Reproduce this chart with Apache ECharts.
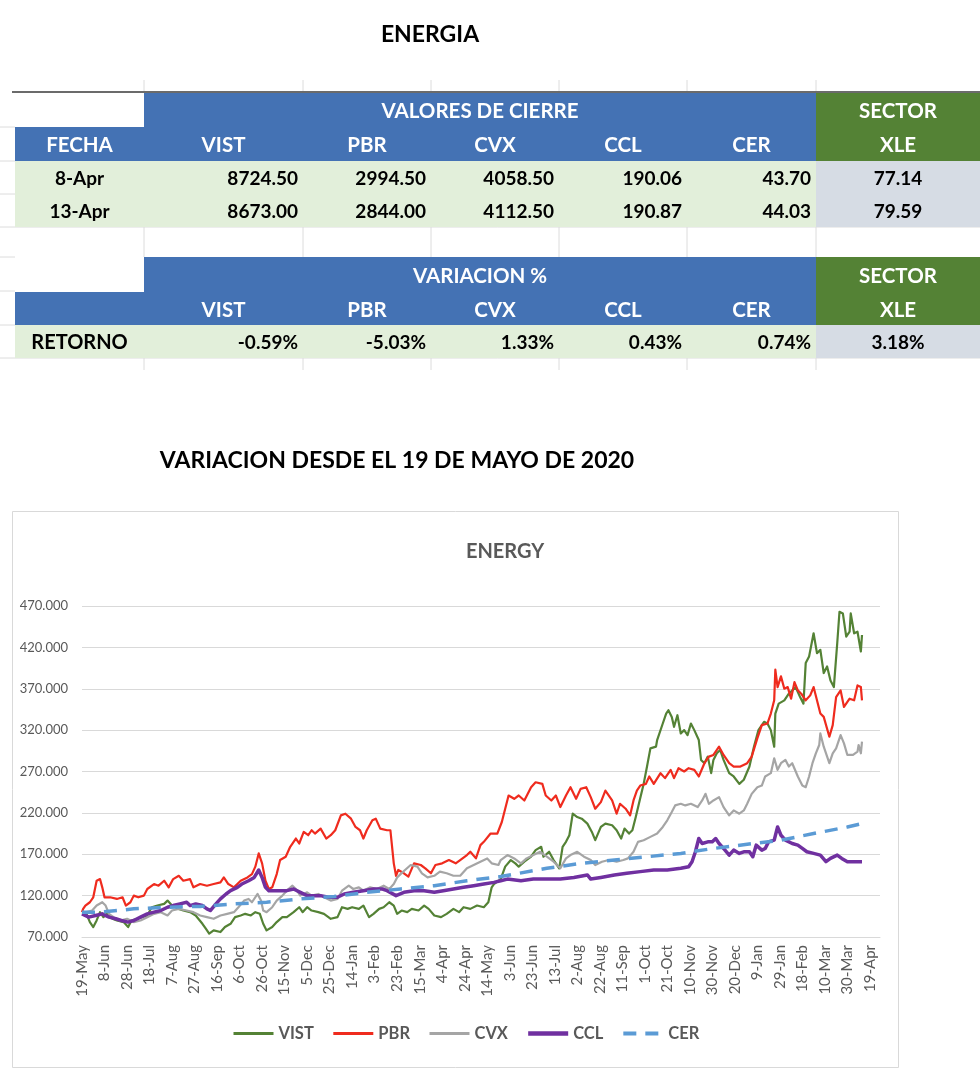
<!DOCTYPE html>
<html>
<head>
<meta charset="utf-8">
<script src="https://cdn.jsdelivr.net/npm/echarts@6/dist/echarts.min.js"></script>
<style>
html,body{margin:0;padding:0;background:#fff;}
#c{width:980px;height:1090px;}
</style>
</head>
<body>
<div id="c"></div>
<script>
// ---------- DATA ----------
const PAGE_TITLE = 'ENERGIA';
const CHART_HEADING = 'VARIACION DESDE EL 19 DE MAYO DE 2020';
const CHART_TITLE = 'ENERGY';
const TICKERS = ['VIST', 'PBR', 'CVX', 'CCL', 'CER'];
const SECTOR_TICKER = 'XLE';
const CLOSE_DATES = ['8-Apr', '13-Apr'];
const CLOSE_VIST = [8724.50, 8673.00];
const CLOSE_PBR = [2994.50, 2844.00];
const CLOSE_CVX = [4058.50, 4112.50];
const CLOSE_CCL = [190.06, 190.87];
const CLOSE_CER = [43.70, 44.03];
const CLOSE_XLE = [77.14, 79.59];
const RETURN_PCT = [-0.59, -5.03, 1.33, 0.43, 0.74];
const RETURN_XLE = 3.18;

// x tick labels: one every 20 days starting 19-May-2020
const X_TICK_LABELS = ['19-May','8-Jun','28-Jun','18-Jul','7-Aug','27-Aug','16-Sep','6-Oct','26-Oct','15-Nov','5-Dec','25-Dec','14-Jan','3-Feb','23-Feb','15-Mar','4-Apr','24-Apr','14-May','3-Jun','23-Jun','13-Jul','2-Aug','22-Aug','11-Sep','1-Oct','21-Oct','10-Nov','30-Nov','20-Dec','9-Jan','29-Jan','18-Feb','10-Mar','30-Mar','19-Apr'];

// series: [days since 19-May-2020, value]
const VIST = [[0,100],[1,102],[4,98],[7,88],[10,82],[13,90],[16,100],[19,94],[22,98],[27,92],[31,90],[37,88],[41,82],[44,90],[49,92],[53,94],[58,96],[62,106],[67,108],[73,110],[76,114],[80,108],[86,104],[90,102],[96,100],[101,96],[107,86],[110,80],[113,74],[117,78],[123,76],[127,82],[132,86],[136,94],[141,96],[145,98],[150,96],[154,100],[158,98],[161,86],[164,78],[169,82],[173,88],[178,94],[182,94],[188,100],[193,106],[196,100],[200,106],[204,102],[210,100],[215,98],[221,92],[227,94],[231,106],[236,104],[240,106],[246,104],[250,108],[255,94],[259,98],[264,104],[268,106],[273,112],[277,108],[280,98],[284,102],[289,100],[293,104],[299,102],[304,108],[308,104],[313,96],[319,94],[324,98],[330,104],[335,100],[339,106],[345,104],[351,108],[357,106],[361,112],[364,130],[366,134],[372,140],[376,155],[381,163],[385,159],[388,155],[393,161],[399,167],[403,175],[408,179],[410,167],[415,173],[419,163],[424,153],[427,179],[430,185],[433,193],[436,219],[440,215],[444,213],[449,207],[453,197],[456,187],[461,203],[465,207],[471,205],[475,199],[479,189],[482,201],[486,195],[489,199],[492,215],[496,238],[499,255],[502,276],[505,298],[510,300],[511,308],[516,328],[519,340],[521,344],[524,336],[526,324],[529,338],[532,316],[535,320],[538,314],[541,328],[544,320],[548,308],[550,284],[553,280],[556,288],[559,268],[561,284],[564,292],[567,296],[570,284],[575,268],[579,264],[584,255],[588,260],[593,276],[597,300],[601,320],[606,330],[609,328],[612,320],[615,300],[616,340],[619,352],[624,356],[628,364],[634,372],[638,360],[641,352],[643,401],[646,409],[650,437],[653,413],[656,417],[659,389],[662,397],[665,380],[668,372],[671,425],[673,463],[676,461],[679,433],[682,439],[683,461],[686,437],[689,439],[692,415],[693,435]];
const PBR = [[0,100],[1,104],[3,108],[7,112],[10,118],[13,138],[16,140],[18,130],[20,118],[25,118],[31,116],[36,118],[39,108],[43,112],[46,120],[50,118],[55,120],[58,128],[64,134],[68,132],[73,138],[77,130],[81,140],[86,144],[90,138],[96,140],[99,130],[105,134],[111,132],[117,134],[123,136],[126,142],[130,134],[135,130],[141,138],[147,142],[151,146],[154,155],[157,171],[160,159],[163,138],[166,128],[169,130],[173,146],[176,163],[181,167],[185,179],[190,189],[193,183],[197,197],[201,193],[204,199],[207,195],[212,201],[217,189],[221,193],[225,199],[230,217],[234,219],[239,213],[243,203],[247,199],[250,189],[253,199],[258,211],[261,213],[265,201],[271,199],[274,199],[277,159],[279,144],[281,151],[286,147],[290,143],[295,159],[301,157],[305,153],[310,147],[314,157],[320,159],[326,163],[332,159],[336,163],[342,169],[345,173],[350,165],[354,181],[357,185],[363,195],[369,195],[373,209],[376,225],[379,241],[384,237],[388,241],[393,235],[399,251],[403,257],[409,255],[412,241],[417,235],[421,241],[425,227],[430,241],[434,251],[439,237],[443,249],[448,251],[452,239],[456,225],[461,233],[465,247],[471,235],[475,219],[478,231],[483,225],[487,217],[490,235],[493,247],[496,253],[501,255],[504,264],[508,255],[514,268],[518,262],[523,272],[526,262],[530,274],[535,270],[539,274],[544,272],[548,264],[553,280],[557,288],[561,290],[566,300],[570,290],[575,280],[579,276],[585,276],[591,280],[595,288],[600,310],[604,326],[609,328],[612,340],[615,356],[616,393],[618,372],[621,385],[624,370],[627,372],[630,358],[633,378],[636,368],[639,364],[643,356],[647,362],[650,372],[653,356],[656,340],[659,336],[664,312],[667,326],[670,360],[674,368],[677,348],[682,358],[686,356],[689,374],[692,372],[693,356]];
const CVX = [[0,100],[2,100],[4,100],[9,102],[13,108],[18,112],[21,108],[24,98],[28,94],[34,90],[40,92],[46,88],[52,90],[58,94],[64,98],[70,100],[76,96],[80,102],[86,104],[93,102],[99,100],[105,96],[111,94],[117,92],[123,96],[129,98],[135,100],[139,106],[144,114],[148,116],[151,112],[156,122],[159,114],[161,102],[164,100],[169,106],[173,114],[178,120],[182,126],[187,132],[190,128],[194,120],[200,124],[204,120],[210,122],[215,118],[221,114],[227,116],[231,126],[237,132],[241,128],[246,130],[250,126],[256,130],[262,128],[268,132],[273,128],[277,134],[280,142],[283,146],[287,151],[292,157],[298,155],[302,147],[307,142],[313,144],[318,149],[324,147],[330,144],[336,144],[342,153],[348,157],[354,161],[360,165],[364,159],[370,157],[372,163],[378,169],[384,165],[390,159],[395,165],[401,169],[407,173],[413,167],[419,161],[425,153],[430,165],[434,169],[440,173],[446,167],[452,163],[456,157],[462,161],[468,163],[475,161],[481,163],[485,165],[490,173],[494,185],[499,187],[505,191],[511,195],[516,203],[520,211],[524,221],[527,229],[532,231],[536,229],[541,231],[547,227],[551,235],[554,243],[557,231],[561,235],[566,239],[570,227],[575,217],[579,223],[584,219],[588,223],[591,231],[595,243],[600,251],[604,253],[607,264],[612,268],[615,286],[618,272],[621,280],[625,284],[628,276],[631,280],[636,264],[640,253],[643,251],[646,264],[649,280],[652,292],[655,302],[656,316],[659,300],[664,280],[667,292],[670,298],[674,314],[677,304],[680,290],[685,290],[689,294],[690,302],[692,292],[693,306]];
const CCL = [[0,98],[6,94],[12,96],[18,98],[24,94],[30,92],[35,90],[41,88],[46,90],[52,94],[58,98],[64,100],[70,102],[76,106],[81,108],[87,110],[93,112],[96,108],[101,110],[107,108],[111,104],[114,102],[119,110],[123,116],[128,122],[132,126],[138,130],[142,134],[148,138],[153,142],[157,151],[160,142],[163,130],[166,126],[173,126],[182,126],[188,128],[194,124],[200,120],[206,120],[212,120],[219,118],[227,118],[233,122],[241,124],[250,126],[259,128],[267,128],[271,126],[279,120],[286,124],[295,126],[304,126],[313,124],[321,126],[330,128],[339,130],[348,132],[357,134],[366,136],[372,138],[378,140],[390,138],[401,140],[413,140],[425,140],[437,142],[449,145],[452,140],[461,142],[473,145],[484,147],[496,149],[508,151],[520,151],[532,153],[539,155],[542,161],[545,173],[548,189],[551,183],[556,185],[560,185],[563,189],[566,183],[570,177],[575,169],[579,175],[584,171],[588,173],[593,173],[596,167],[599,181],[604,175],[607,177],[610,185],[615,187],[618,203],[621,193],[625,187],[631,183],[636,181],[640,177],[644,173],[650,171],[656,169],[661,161],[665,165],[671,169],[675,165],[680,161],[685,161],[693,161]];
const CER = [[0,100],[16,100],[46,104],[76,106],[105,107],[135,110],[164,112],[194,116],[224,119],[253,124],[283,128],[313,132],[342,138],[372,143],[384,146],[413,153],[443,159],[473,163],[502,167],[532,171],[561,177],[591,182],[621,187],[650,195],[680,203],[693,207]];

// ---------- STYLE ----------
const FONT = 'Lato, "Open Sans", sans-serif';
const BLUE = '#4472B4', GREEN = '#548235', LIGHTGREEN = '#E2EFDA', LIGHTGRAY = '#D6DCE4';
const COLX = [15, 144, 303, 431, 559, 687, 816, 980];
const FAINT = '#dcdcdc';

const g = [];
function rect(x, y, w, h, fill, z) { g.push({type:'rect', silent:true, z:z||1, shape:{x, y, width:w, height:h}, style:{fill}}); }
function line(x1, y1, x2, y2, color, w, z) { g.push({type:'line', silent:true, z:z||1, shape:{x1, y1, x2, y2}, style:{stroke:color, lineWidth:w||1}}); }
function text(x, y, str, align, color, font) {
  g.push({type:'text', silent:true, z:5, x, y, style:{text:str, fill:color, font:font, textAlign:align, align:align, textVerticalAlign:'middle', verticalAlign:'middle'}});
}
const HFONT = 'bold 20.5px ' + FONT;
const DFONT = 'bold 19px ' + FONT;

text(430, 35, PAGE_TITLE, 'center', '#000', 'bold 23px ' + FONT);
text(397, 461, CHART_HEADING, 'center', '#000', 'bold 23px ' + FONT);

// faint spreadsheet gridlines
for (let i = 1; i < COLX.length - 1; i++) {
  line(COLX[i], 80, COLX[i], 92, FAINT, 1, 0);
  line(COLX[i], 227, COLX[i], 257, FAINT, 1, 0);
  line(COLX[i], 358, COLX[i], 370, FAINT, 1, 0);
}
line(COLX[0], 227, 980, 227, FAINT, 1, 0);
line(COLX[0], 358, 980, 358, FAINT, 1, 0);
[127, 161, 194, 227, 257, 291, 325, 358].forEach(y => line(0, y, COLX[0], y, FAINT, 1, 0));

function headerBlock(top, titleText, withFecha) {
  rect(COLX[1], top, COLX[6] - COLX[1], 35, BLUE);
  rect(COLX[6], top, COLX[7] - COLX[6], 35, GREEN);
  text((COLX[1] + COLX[6]) / 2, top + 19, titleText, 'center', '#fff', HFONT);
  text((COLX[6] + COLX[7]) / 2, top + 19, 'SECTOR', 'center', '#fff', HFONT);
  rect(COLX[0], top + 35, COLX[6] - COLX[0], 34, BLUE);
  rect(COLX[6], top + 35, COLX[7] - COLX[6], 34, GREEN);
  if (withFecha) text((COLX[0] + COLX[1]) / 2, top + 53, 'FECHA', 'center', '#fff', HFONT);
  TICKERS.forEach((t, i) => text((COLX[i + 1] + COLX[i + 2]) / 2, top + 53, t, 'center', '#fff', HFONT));
  text((COLX[6] + COLX[7]) / 2, top + 53, SECTOR_TICKER, 'center', '#fff', HFONT);
}
line(12, 92, 980, 92, '#6b6b6b', 2, 3);
headerBlock(92, 'VALORES DE CIERRE', true);
const closeCols = [CLOSE_VIST, CLOSE_PBR, CLOSE_CVX, CLOSE_CCL, CLOSE_CER];
CLOSE_DATES.forEach((d, r) => {
  const top = 161 + r * 33;
  rect(COLX[0], top, COLX[6] - COLX[0], 33, LIGHTGREEN);
  rect(COLX[6], top, COLX[7] - COLX[6], 33, LIGHTGRAY);
  text((COLX[0] + COLX[1]) / 2, top + 18, d, 'center', '#000', DFONT);
  closeCols.forEach((arr, i) => text(COLX[i + 2] - 5, top + 18, arr[r].toFixed(2), 'right', '#000', DFONT));
  text((COLX[6] + COLX[7]) / 2, top + 18, CLOSE_XLE[r].toFixed(2), 'center', '#000', DFONT);
});
headerBlock(257, 'VARIACION %', false);
rect(COLX[0], 325, COLX[6] - COLX[0], 33, LIGHTGREEN);
rect(COLX[6], 325, COLX[7] - COLX[6], 33, LIGHTGRAY);
text((COLX[0] + COLX[1]) / 2, 343, 'RETORNO', 'center', '#000', 'bold 20px ' + FONT);
RETURN_PCT.forEach((v, i) => text(COLX[i + 2] - 5, 343, v.toFixed(2) + '%', 'right', '#000', DFONT));
text((COLX[6] + COLX[7]) / 2, 343, RETURN_XLE.toFixed(2) + '%', 'center', '#000', DFONT);

// chart frame + title
g.push({type:'rect', silent:true, z:0, shape:{x:12.5, y:511.5, width:886, height:556}, style:{fill:'none', stroke:'#d9d9d9', lineWidth:1}});
text(505, 552, CHART_TITLE, 'center', '#595959', 'bold 20px ' + FONT);

const COLORS = {VIST:'#548235', PBR:'#EF2B1E', CVX:'#A5A5A5', CCL:'#7030A0', CER:'#5B9BD5'};
const SERIES = {VIST, PBR, CVX, CCL, CER};
const LINE_W = {VIST: 2.2, PBR: 2.2, CVX: 2.2, CCL: 3.5, CER: 3.5};
const LEGEND_W = {VIST: 3, PBR: 3, CVX: 3, CCL: 4.5, CER: 4};

const chart = echarts.init(document.getElementById('c'), null, {renderer:'canvas'});
chart.setOption({
  animation: false,
  backgroundColor: '#fff',
  graphic: {elements: g},
  grid: {left: 82, right: 100, top: 606, bottom: 153, containLabel: false},
  xAxis: {
    type: 'value', min: 0, max: 709, interval: 20,
    axisLine: {show: true, lineStyle: {color: '#d9d9d9', width: 1}},
    axisTick: {show: false},
    splitLine: {show: false},
    axisLabel: {
      rotate: 90, fontSize: 15, color: '#595959', fontFamily: FONT, margin: 8,
      showMaxLabel: false, showMinLabel: true,
      formatter: v => (v % 20 === 0 && X_TICK_LABELS[v / 20] !== undefined) ? X_TICK_LABELS[v / 20] : ''
    }
  },
  yAxis: {
    type: 'value', min: 70, max: 470, interval: 50,
    axisLine: {show: false}, axisTick: {show: false},
    splitLine: {lineStyle: {color: '#d9d9d9', width: 1}},
    axisLabel: {fontSize: 13, color: '#595959', fontFamily: FONT, margin: 14, formatter: v => v.toFixed(3)}
  },
  legend: {
    left: 227, top: 1020, itemWidth: 40, itemHeight: 14, itemGap: 18,
    itemStyle: {opacity: 0},
    textStyle: {fontFamily: FONT, fontWeight: 'bold', fontSize: 16.5, color: '#595959'},
    data: TICKERS.map(name => ({name, lineStyle: {width: LEGEND_W[name]}}))
  },
  series: TICKERS.map(name => ({
    name, type: 'line', data: SERIES[name], showSymbol: false, symbol: 'none',
    color: COLORS[name],
    lineStyle: {
      color: COLORS[name],
      width: LINE_W[name],
      type: name === 'CER' ? [13, 9] : 'solid',
      cap: 'butt', join: 'round'
    }
  }))
});
</script>
</body>
</html>
